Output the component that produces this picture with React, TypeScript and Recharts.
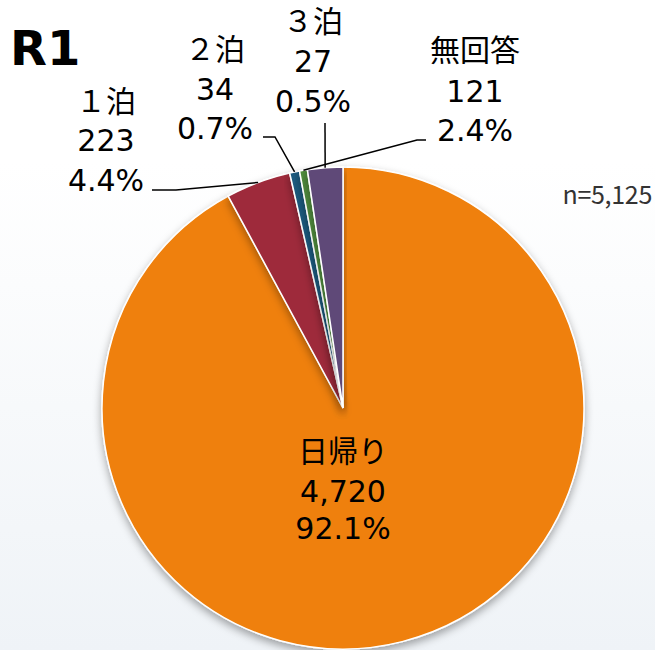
import React from 'react';
import { PieChart, Pie, Cell } from 'recharts';

const categories = ['日帰り', '１泊', '２泊', '３泊', '無回答'];
const counts = [4720, 223, 34, 27, 121];
const percents = ['92.1%', '4.4%', '0.7%', '0.5%', '2.4%'];
const sampleNote = 'n=5,125';
const colors = ['#ef800b', '#9e2a3a', '#1e5a7e', '#4f8a3d', '#5f4878'];

const data = categories.map((name, i) => ({ name, value: counts[i], pct: percents[i] }));

// label placement (layout only): text centre, line centres, leader start, which slice the leader hits
const labelLayout = [
  { x: 343, ys: [451, 491, 528], line: null, target: 0 },
  { x: 106, ys: [101, 140, 180], line: [[152, 190], [176, 190]], target: 1 },
  { x: 215, ys: [49, 89, 128], line: [[263, 137], [275, 137]], target: 2 },
  { x: 313, ys: [21, 61, 101], line: [[325, 123]], target: 4 },
  { x: 475, ys: [50, 91, 130], line: [[426, 140], [417, 140]], target: 3 },
];

const total = counts.reduce((a, b) => a + b, 0);
const midAngles = counts.map((v, i) => {
  const before = counts.slice(0, i).reduce((a, b) => a + b, 0);
  return 90 - ((before + v / 2) / total) * 360;
});

const RAD = Math.PI / 180;
const font = '"DejaVu Sans", "Noto Sans CJK JP", sans-serif';

const renderLabel = (props: any) => {
  const { cx, cy, outerRadius, index } = props;
  const lay = labelLayout[index];
  const d = data[index];
  let path = null;
  if (lay.line) {
    const a = midAngles[lay.target];
    const ex = cx + outerRadius * Math.cos(a * RAD);
    const ey = cy - outerRadius * Math.sin(a * RAD);
    const pts = [...lay.line, [ex, ey]].map((p) => p.join(',')).join(' ');
    path = <polyline points={pts} fill="none" stroke="#000" strokeWidth={1.5} />;
  }
  const lines = [d.name, d.value.toLocaleString('en-US'), d.pct];
  return (
    <g key={`lbl-${index}`}>
      {path}
      {lines.map((t, j) => (
        <text key={j} x={lay.x} y={lay.ys[j]} textAnchor="middle" dominantBaseline="central"
          fill="#000" fontSize={30} fontFamily={font}>
          {t}
        </text>
      ))}
    </g>
  );
};

export default function App() {
  return (
    <div style={{
      position: 'absolute', left: 0, top: 0, width: 655, height: 650, overflow: 'hidden',
      background: 'linear-gradient(to bottom, #ffffff 0%, #ffffff 25%, #eff3f7 100%)',
    }}>
      <div style={{
        position: 'absolute', left: 10, top: 22, fontSize: 48, fontWeight: 900,
        fontFamily: '"DejaVu Sans", sans-serif', lineHeight: '52px', color: '#000',
      }}>R1</div>
      <div style={{
        position: 'absolute', right: 3, top: 175, fontSize: 25, color: '#333',
        fontFamily: '"Noto Sans CJK JP", sans-serif', letterSpacing: '-0.3px',
      }}>{sampleNote}</div>
      <PieChart width={655} height={650} margin={{ top: 0, right: 0, bottom: 0, left: 0 }}
        style={{ position: 'absolute', left: 0, top: 0 }}>
        <defs>
          <filter id="pieShadow" x="-10%" y="-10%" width="120%" height="125%">
            <feDropShadow dx="0" dy="4" stdDeviation="4" floodColor="#000" floodOpacity="0.35" />
          </filter>
        </defs>
        <Pie
          data={data}
          dataKey="value"
          nameKey="name"
          cx={343}
          cy={408}
          outerRadius={241}
          startAngle={90}
          endAngle={-270}
          stroke="#ffffff"
          strokeWidth={1.5}
          label={renderLabel}
          labelLine={false}
          isAnimationActive={false}
          filter="url(#pieShadow)"
        >
          {data.map((d, i) => (
            <Cell key={d.name} fill={colors[i]} />
          ))}
        </Pie>
      </PieChart>
    </div>
  );
}
